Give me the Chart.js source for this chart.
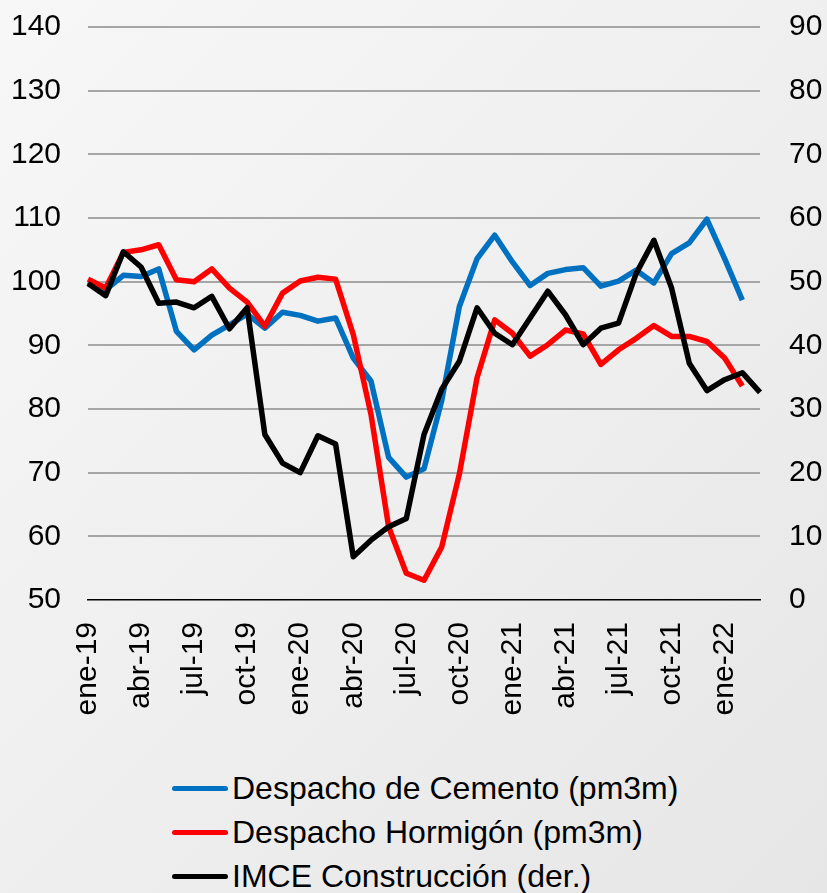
<!DOCTYPE html>
<html lang="es">
<head>
<meta charset="utf-8">
<script src="https://cdn.jsdelivr.net/npm/chart.js@4.4.1/dist/chart.umd.min.js"></script>
<style>
    html, body {
        margin: 0;
        padding: 0;
        width: 827px;
        height: 893px;
        overflow: hidden;
        font-family: "Liberation Sans", Arial, sans-serif;
    }
    body {
        background: linear-gradient(135deg, #f7f7f7 0%, #efefef 50%, #e6e6e6 100%);
        position: relative;
    }
    #contenedor {
        position: absolute;
        left: 0;
        top: -20px;
        width: 827px;
        height: 780px;
    }
    #leyenda {
        position: absolute;
        left: 172px;
        top: 766px;
        font-size: 32px;
        color: #000;
    }
    .item {
        height: 44px;
        line-height: 44px;
        white-space: nowrap;
    }
    .linea {
        display: inline-block;
        width: 56px;
        height: 5px;
        border-radius: 3px;
        vertical-align: middle;
        margin-right: 4px;
        position: relative;
        top: -2px;
    }
</style>
</head>
<body>
<div id="contenedor"><canvas id="grafico" width="827" height="780"></canvas></div>
<div id="leyenda"></div>

<script>
// Meses (ene-19 a mar-22)
const meses = ['ene','feb','mar','abr','may','jun','jul','ago','sep','oct','nov','dic'];
const etiquetas = [];
for (let a = 19; a <= 22; a++) {
    meses.forEach(m => etiquetas.push(`${m}-${a}`));
}
etiquetas.length = 39;

// Despacho de Cemento (pm3m), eje izquierdo
const cemento = [100, 98.7, 101, 100.8, 102, 92.2, 89.3, 91.6, 93.2, 94.9, 92.7, 95.2, 94.7, 93.8, 94.3,
    88, 84.4, 72.4, 69.3, 70.6, 81.3, 96.1, 103.6, 107.3, 103.1, 99.4, 101.3, 101.9, 102.2, 99.3,
    100.1, 101.8, 99.8, 104.4, 106.1, 109.8, 103.6, 97.1, null];

// Despacho Hormigón (pm3m), eje izquierdo
const hormigon = [100.4, 99, 104.6, 105, 105.8, 100.3, 100, 102, 99, 96.8, 93, 98.2, 100.1, 100.7, 100.4,
    91.7, 79.2, 61.5, 54.2, 53.1, 58.3, 69.8, 84.9, 94, 91.9, 88.3, 90.1, 92.4, 91.8, 87,
    89.3, 91.1, 93.1, 91.4, 91.4, 90.6, 88, 83.6, null];

// IMCE Construcción, eje derecho
const imce = [49.7, 47.8, 54.7, 52.3, 46.6, 46.8, 45.9, 47.7, 42.6, 45.9, 26, 21.5, 20, 25.8, 24.5,
    6.8, 9.4, 11.5, 12.8, 26, 33.1, 37.5, 45.9, 41.9, 40.1, 44.3, 48.5, 44.8, 40.1, 42.7,
    43.5, 51.3, 56.5, 49, 37.2, 32.9, 34.6, 35.7, 32.6];

const series = [
    { nombre: 'Despacho de Cemento (pm3m)', datos: cemento, color: '#0070C0', eje: 'y' },
    { nombre: 'Despacho Hormigón (pm3m)', datos: hormigon, color: '#FF0000', eje: 'y' },
    { nombre: 'IMCE Construcción (der.)', datos: imce, color: '#000000', eje: 'y1' }
];

const fuente = { family: '"Liberation Sans", Arial, sans-serif', size: 30 };

const ctx = document.getElementById('grafico').getContext('2d');
const grafico = new Chart(ctx, {
    type: 'line',
    data: {
        labels: etiquetas,
        datasets: series.map(s => ({
            label: s.nombre,
            data: s.datos,
            borderColor: s.color,
            backgroundColor: s.color,
            borderWidth: 5.5,
            pointRadius: 0,
            tension: 0,
            fill: false,
            yAxisID: s.eje,
            borderJoinStyle: 'round'
        })).reverse()
    },
    options: {
        responsive: false,
        animation: false,
        layout: { padding: { top: 5, left: 0, right: 0, bottom: 0 } },
        plugins: {
            legend: { display: false },
            tooltip: { enabled: false }
        },
        scales: {
            x: {
                offset: false,
                grid: { display: false },
                border: { display: true, color: '#000', width: 1.5 },
                ticks: {
                    autoSkip: false,
                    maxRotation: 90,
                    minRotation: 90,
                    padding: 14,
                    color: '#000',
                    font: fuente,
                    callback: function(valor, indice) {
                        return indice % 3 === 0 ? etiquetas[indice] : '';
                    }
                },
                afterFit: escala => { escala.height = 160; }
            },
            y: {
                position: 'left',
                min: 50,
                max: 140,
                grid: {
                    color: c => c.tick.value === 50 ? 'rgba(0,0,0,0)' : '#a6a6a6',
                    lineWidth: 2,
                    drawTicks: false
                },
                border: { display: false },
                ticks: { stepSize: 10, padding: 27, color: '#000', font: fuente },
                afterFit: escala => { escala.width = 88; }
            },
            y1: {
                position: 'right',
                min: 0,
                max: 90,
                grid: { display: false, drawTicks: false },
                border: { display: false },
                ticks: { stepSize: 10, padding: 29, color: '#000', font: fuente },
                afterFit: escala => { escala.width = 67; }
            }
        }
    }
});

// Leyenda en HTML, alineada a la izquierda como en el original
const leyenda = document.getElementById('leyenda');
series.forEach(s => {
    const fila = document.createElement('div');
    fila.className = 'item';
    fila.innerHTML = `<span class="linea" style="background:${s.color}"></span>${s.nombre}`;
    leyenda.appendChild(fila);
});
</script>
</body>
</html>
